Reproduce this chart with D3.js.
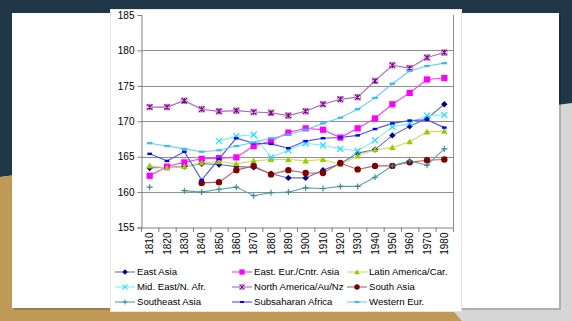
<!DOCTYPE html>
<html><head><meta charset="utf-8">
<script src="https://cdn.jsdelivr.net/npm/d3@7/dist/d3.min.js"></script>
<style>html,body{margin:0;padding:0;background:#d6d6d6;overflow:hidden}svg{display:block}</style>
</head><body>
<svg id="c" width="572" height="321"></svg>
<script>
const years = ["1810","1820","1830","1840","1850","1860","1870","1880","1890","1900","1910","1920","1930","1940","1950","1960","1970","1980"];
const yTicks = [155,160,165,170,175,180,185];

const eastAsia   = [163.4,163.5,163.6,164.0,163.9,163.6,163.5,162.6,162.0,162.0,163.1,164.0,165.5,166.0,168.0,169.3,170.4,172.4];
const eastEur    = [162.3,163.6,164.2,164.7,164.8,164.9,166.5,167.2,168.4,169.0,168.8,167.7,169.0,170.4,172.4,174.0,175.9,176.1];
const latinAm    = [163.7,163.4,163.6,164.1,164.3,164.0,164.4,164.6,164.6,164.4,164.6,163.9,165.1,166.0,166.3,167.1,168.5,168.6];
const midEast    = [null,null,null,null,167.2,167.9,168.1,164.9,165.9,166.9,166.6,166.1,165.8,167.3,169.2,169.7,170.8,170.9];
const northAm    = [172.0,172.0,172.9,171.7,171.4,171.5,171.3,171.2,170.8,171.4,172.4,173.1,173.4,175.7,177.9,177.5,179.0,179.7];
const southAsia  = [null,null,null,161.3,161.4,163.1,163.7,162.5,163.1,162.7,162.7,164.1,163.2,163.7,163.7,164.2,164.5,164.6];
const southeastAsia = [160.7,null,160.2,160.0,160.4,160.7,159.5,159.9,160.0,160.6,160.5,160.8,160.8,162.1,163.7,164.4,163.8,166.1];
const subsaharan = [165.4,164.4,165.7,161.7,164.7,167.6,166.9,166.8,166.2,167.2,167.6,167.7,168.0,168.9,169.7,170.1,170.2,169.1];
const westernEur = [166.9,166.5,166.1,165.7,165.9,166.5,167.0,167.6,168.1,168.8,169.7,170.5,171.7,173.3,175.3,177.1,177.8,178.2];

const seriesNames = ["East Asia","East. Eur./Cntr. Asia","Latin America/Car.","Mid. East/N. Afr.","North America/Au/Nz","South Asia","Southeast Asia","Subsaharan Africa","Western Eur."];
const seriesValues = [eastAsia,eastEur,latinAm,midEast,northAm,southAsia,southeastAsia,subsaharan,westernEur];
const lineColors = ["#6a6ad0","#ff33ff","#ccdd55","#77f0ff","#b060c8","#c06060","#5aa5a5","#4a4aff","#66ccff"];
const markColors = ["#000080","#ff00ff","#99cc00","#22ddff","#800080","#800000","#338888","#0000ee","#33bbff"];
const markTypes = ["diamond","square","triangle","x","starbox","circle","plus","dash","dash2"];

const svg = d3.select("#c");
const FONT = "'Liberation Sans', Arial, sans-serif";

// slide background
svg.append("rect").attr("x",0).attr("y",0).attr("width",572).attr("height",321).attr("fill","#d6d6d6");
svg.append("polygon").attr("points","0,0 572,0 572,103 0,177").attr("fill","#1f3746");
svg.append("polygon").attr("points","0,177 300,138 462,321 0,321").attr("fill","#bf9a56");
svg.append("rect").attr("x",14).attr("y",15).attr("width",547).attr("height",295).attr("fill","#000").attr("opacity",0.18);
svg.append("rect").attr("x",12).attr("y",13).attr("width",547).attr("height",295).attr("fill","#fff");
// chart image
svg.append("rect").attr("x",110.5).attr("y",9.5).attr("width",351).attr("height",302).attr("fill","#fff").attr("stroke","#e4e4e4");

const x = d3.scaleBand().domain(years).range([141,453]);
const y = d3.scaleLinear().domain([155,185]).range([227.5,15]);

const g = svg.append("g");
// gridlines
g.selectAll("line.grid").data(yTicks.filter(t=>t>155 && t<185)).join("line")
  .attr("x1",141).attr("x2",453).attr("y1",d=>Math.round(y(d))+0.5).attr("y2",d=>Math.round(y(d))+0.5)
  .attr("stroke","#8f8f8f").attr("stroke-width",1);
// right border
g.append("line").attr("x1",453.5).attr("x2",453.5).attr("y1",15).attr("y2",227.5).attr("stroke","#8f8f8f");

// y axis
const yAxis = g.append("g").attr("transform","translate(141.5,0)")
  .call(d3.axisLeft(y).tickValues(yTicks).tickSize(4).tickPadding(3).tickFormat(d3.format("d")));
yAxis.select(".domain").attr("stroke","#808080");
yAxis.selectAll(".tick line").attr("stroke","#808080");
yAxis.selectAll("text").attr("font-family",FONT).attr("font-size",10).attr("fill","#000");

// x axis
const xAxis = g.append("g").attr("transform","translate(0,227.5)")
  .call(d3.axisBottom(x).tickSize(0).tickFormat(d=>d));
xAxis.select(".domain").attr("stroke","#808080");
xAxis.selectAll("text").attr("font-family",FONT).attr("font-size",10).attr("fill","#000")
  .attr("transform","rotate(-90)").attr("text-anchor","end").attr("x",-5).attr("y",0).attr("dy","0.35em");
// x tick marks at band boundaries
g.selectAll("line.xt").data(d3.range(years.length+1)).join("line")
  .attr("x1",i=>141+i*x.step()+0.5).attr("x2",i=>141+i*x.step()+0.5)
  .attr("y1",227.5).attr("y2",232).attr("stroke","#808080");

function marker(sel, type, cx, cy, color, s){
  s = s || 1;
  const m = sel.append("g").attr("transform",`translate(${cx},${cy}) scale(${s})`);
  switch(type){
    case "diamond": m.append("path").attr("d","M0,-3.2L3.2,0L0,3.2L-3.2,0Z").attr("fill",color); break;
    case "square": m.append("rect").attr("x",-3.1).attr("y",-3.1).attr("width",6.2).attr("height",6.2).attr("fill",color); break;
    case "triangle": m.append("path").attr("d","M0,-3.3L3.3,2.5L-3.3,2.5Z").attr("fill",color); break;
    case "x": m.append("path").attr("d","M-3,-3L3,3M-3,3L3,-3").attr("stroke",color).attr("stroke-width",1.2); break;
    case "starbox":
      m.append("rect").attr("x",-2.8).attr("y",-2.8).attr("width",5.6).attr("height",5.6).attr("fill","none").attr("stroke","#c08cd0").attr("stroke-width",0.9);
      m.append("path").attr("d","M-2.6,-2.6L2.6,2.6M-2.6,2.6L2.6,-2.6M0,-2.6L0,2.6").attr("stroke",color).attr("stroke-width",1.1);
      break;
    case "circle": m.append("circle").attr("r",3.2).attr("fill",color); break;
    case "plus": m.append("path").attr("d","M-3,0L3,0M0,-3L0,3").attr("stroke",color).attr("stroke-width",1.1); break;
    case "dash": m.append("rect").attr("x",-2.3).attr("y",-1.2).attr("width",4.6).attr("height",2.4).attr("fill",color); break;
    case "dash2": m.append("rect").attr("x",-2.8).attr("y",-1.1).attr("width",5.6).attr("height",2.2).attr("fill",color); break;
  }
}

const line = d3.line().defined(d=>d.v!=null).x(d=>x(d.yr)+x.bandwidth()/2).y(d=>y(d.v));
seriesValues.forEach((vals,i)=>{
  const pts = years.map((yr,j)=>({yr, v: vals[j]}));
  g.append("path").datum(pts).attr("d",line).attr("fill","none").attr("stroke",lineColors[i]).attr("stroke-width",1.1);
});
seriesValues.forEach((vals,i)=>{
  const mg = g.append("g");
  years.forEach((yr,j)=>{
    if(vals[j]!=null) marker(mg, markTypes[i], x(yr)+x.bandwidth()/2, y(vals[j]), markColors[i]);
  });
});

// legend
const colLine = [115,232,347];
const rowY = [272,287,302];
const lg = svg.append("g");
seriesNames.forEach((name,i)=>{
  const c = i%3, r = Math.floor(i/3);
  const lx = colLine[c], ly = rowY[r];
  lg.append("line").attr("x1",lx).attr("x2",lx+20).attr("y1",ly).attr("y2",ly).attr("stroke",lineColors[i]).attr("stroke-width",1.1);
  marker(lg, markTypes[i], lx+10, ly, markColors[i], 0.85);
  lg.append("text").attr("x",lx+22).attr("y",ly).attr("dy","0.35em").attr("font-family",FONT).attr("font-size",9.6).attr("fill","#000").text(name);
});
</script>
</body></html>
